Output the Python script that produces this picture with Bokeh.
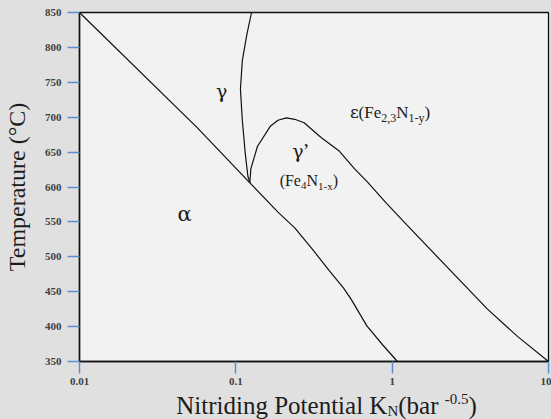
from bokeh.plotting import figure
from bokeh.layouts import column
from bokeh.models import Range1d, FixedTicker, CustomJSTickFormatter, Label
from bokeh.embed import file_html
from bokeh.resources import INLINE

# Fe-N phase boundaries: nitriding potential K_N (bar^-0.5) vs temperature (°C)
alpha_kn = [0.01, 0.0566, 0.123, 0.186, 0.239, 0.316, 0.397, 0.489, 0.547, 0.689, 0.868, 1.08]
alpha_t = [850, 685, 606, 564, 541, 508, 480, 455, 439, 401, 374, 350]

gamma_kn = [0.126, 0.1175, 0.11, 0.107, 0.11, 0.115, 0.1195, 0.123]
gamma_t = [850, 818, 781, 740, 696, 647, 615, 606]

gprime_kn = [0.123, 0.1247, 0.1374, 0.1668, 0.186, 0.2104, 0.238, 0.2735, 0.351,
             0.456, 0.575, 0.689, 0.908, 1.236, 4.07, 6.33, 10]
gprime_t = [606, 626, 658, 687.5, 695.6, 699, 697, 692, 671,
            652, 626, 608, 578, 546, 425, 386, 350]

x_ticks = [0.01, 0.1, 1, 10]
x_tick_labels = ["0.01", "0.1", "1", "10"]
y_ticks = [350, 400, 450, 500, 550, 600, 650, 700, 750, 800, 850]
y_title = "Temperature (°C)"

# phase-field label anchors (K_N, T)
pos_alpha = (0.0464, 553)
pos_gamma = (0.0807, 730)
pos_gprime = (0.27, 643)
pos_gprime_formula = (0.293, 603)
pos_eps = (0.538, 700)

FONT = "Liberation Serif"
GREEK = "DejaVu Serif"
INK = "#1c1c1c"
TICK_BLUE = "#5b8fd0"
OUTER = "#e0e0e0"

# advance widths (em) for Liberation Serif, used to set sub/superscript pieces
W = {' ': .25, '(': .333, ')': .333, ',': .25, '-': .333, '.': .25,
     'C': .667, 'F': .556, 'K': .722, 'N': .722, 'P': .556, 'T': .611,
     'a': .444, 'b': .5, 'd': .5, 'e': .444, 'g': .5, 'i': .278, 'l': .278,
     'm': .778, 'n': .5, 'o': .5, 'p': .5, 'r': .333, 't': .278, 'u': .5,
     'x': .5, 'y': .5, 'α': .6, 'γ': .55, 'ε': .5, '’': .333}


def adv(s, px):
    return sum(W.get(c, .5) for c in s) * px


BORDER_L, BORDER_R = 78, 3
BOTTOM_H = 28    # strip holding the x title
MAIN_H = 419 - BOTTOM_H

p = figure(width=551, height=MAIN_H, x_axis_type="log", title=None,
           x_range=Range1d(0.01, 10), y_range=Range1d(350, 850),
           output_backend="svg", toolbar_location=None,
           min_border_left=BORDER_L, min_border_right=BORDER_R,
           min_border_top=12, min_border_bottom=MAIN_H - 12 - 349)

p.background_fill_color = "#f2f2f2"
p.border_fill_color = OUTER
p.outline_line_color = "#111111"
p.outline_line_width = 1.3
p.grid.visible = False

for ax in (p.xaxis[0], p.yaxis[0]):
    ax.axis_line_color = "#111111"
    ax.axis_line_width = 1.5
    ax.major_tick_line_color = TICK_BLUE
    ax.major_tick_line_width = 1.5
    ax.major_tick_in = 0
    ax.major_tick_out = 12
    ax.minor_tick_line_color = None
    ax.major_label_text_font = FONT
    ax.major_label_text_font_style = "bold"
    ax.major_label_text_font_size = "11px"
    ax.major_label_text_color = "#404040"

p.xaxis.ticker = FixedTicker(ticks=x_ticks)
p.xaxis.formatter = CustomJSTickFormatter(args=dict(labels=x_tick_labels),
                                          code="return labels[index];")
p.xaxis.major_label_standoff = 4
p.yaxis.ticker = FixedTicker(ticks=y_ticks)
p.yaxis.major_label_standoff = 6
p.yaxis.axis_label = y_title
p.yaxis.axis_label_text_font = FONT
p.yaxis.axis_label_text_font_size = "24px"
p.yaxis.axis_label_text_font_style = "normal"
p.yaxis.axis_label_text_color = INK
p.yaxis.axis_label_standoff = 12

# phase boundaries
for xs, ys in ((alpha_kn, alpha_t), (gamma_kn, gamma_t), (gprime_kn, gprime_t)):
    p.line(xs, ys, line_color="#111111", line_width=1.2)


def rich(fig, x, y, pieces, center=True, lift=0):
    """Lay out label pieces (text, size_px, rise_px, font) side by side.

    Each piece is raised by 0.3 em so its baseline sits on the anchor.
    """
    total = sum(adv(t, s) for t, s, _, _ in pieces)
    off = -(total / 2 if center else 0)
    for t, s, rise, f in pieces:
        fig.add_layout(Label(x=x, y=y, text=t, x_offset=off,
                             y_offset=lift + rise + round(0.3 * s, 1),
                             text_font=f, text_font_size=f"{s}px",
                             text_color=INK, text_align="left",
                             text_baseline="alphabetic"))
        off += adv(t, s)


# phase fields
rich(p, *pos_alpha, [("α", 21, 0, GREEK)])
rich(p, *pos_gamma, [("γ", 19, 0, GREEK)])
rich(p, *pos_gprime, [("γ", 19, 0, GREEK), (" ’", 20, 0, FONT)])
rich(p, *pos_gprime_formula, [("(Fe", 16, 0, FONT), ("4", 11, -4, FONT), ("N", 16, 0, FONT),
                              ("1-x", 11, -4, FONT), (")", 16, 0, FONT)])
rich(p, *pos_eps, [("ε", 17, 0, GREEK), ("(Fe", 17, 0, FONT), ("2,3", 12, -4, FONT),
                   ("N", 17, 0, FONT), ("1-y", 12, -4, FONT), (")", 17, 0, FONT)],
     center=False)

# x title strip: its frame lines up with the main frame, so x is in page pixels
xt = figure(width=551, height=BOTTOM_H, title=None,
            x_range=Range1d(BORDER_L, 551 - BORDER_R), y_range=Range1d(0, BOTTOM_H),
            x_axis_location=None, y_axis_location=None,
            output_backend="svg", toolbar_location=None,
            min_border_left=BORDER_L, min_border_right=BORDER_R,
            min_border_top=0, min_border_bottom=0)
xt.grid.visible = False
xt.outline_line_color = None
xt.background_fill_color = OUTER
xt.border_fill_color = OUTER

# hung from the top edge of the strip, baseline about 21px below it
rich(xt, 175, BOTTOM_H,
     [("Nitriding Potential K", 25, 0, FONT), ("N", 15, -3, FONT), (" (bar", 25, 0, FONT),
      ("-0.5", 15, 9, FONT), (")", 25, 0, FONT)],
     center=False, lift=-21)

layout = column(p, xt, spacing=0)
layout.styles = {"background-color": OUTER}

open("out.html", "w").write(file_html(layout, INLINE))
